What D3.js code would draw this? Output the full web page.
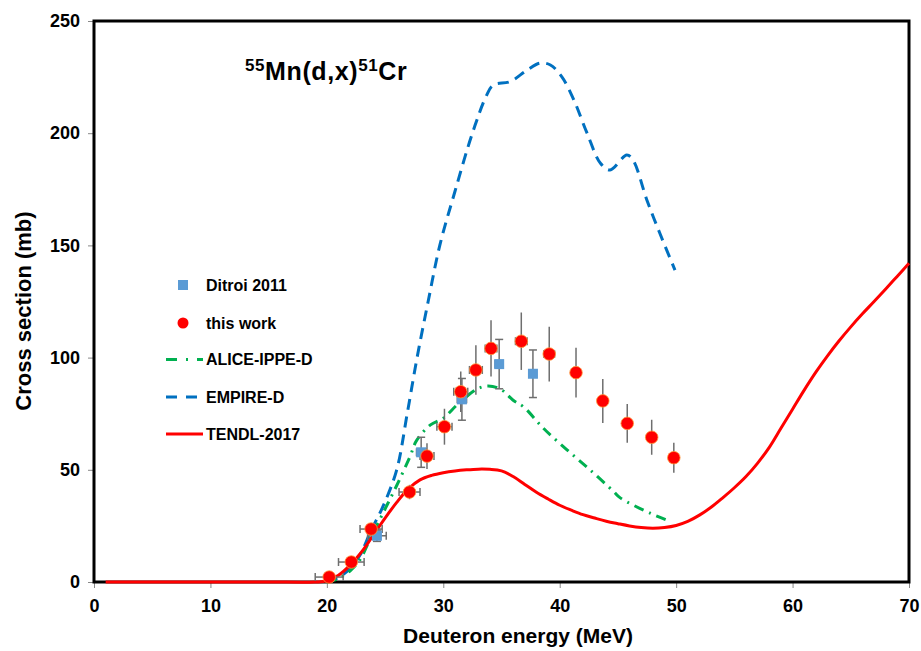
<!DOCTYPE html>
<html>
<head>
<meta charset="utf-8">
<script src="https://cdn.jsdelivr.net/npm/d3@7"></script>
<style>
body { margin: 0; background: #fff; }
text { font-family: "Liberation Sans", Arial, sans-serif; font-weight: bold; }
</style>
</head>
<body>
<svg width="921" height="651"></svg>
<script>
// measured cross sections, this work: energy, xerr, sigma, yerr
var workE    = [20.2, 22.1, 23.8, 27.1, 28.6, 30.1, 31.5, 32.8, 34.1, 36.7, 39.1, 41.4, 43.7, 45.8, 47.9, 49.8];
var workEerr = [1.2, 1.1, 0.95, 0.9, 0.6, 0.65, 0.6, 0.55, 0.5, 0.5, 0.45, 0, 0, 0, 0, 0];
var workS    = [2.2, 8.9, 23.6, 40.1, 56.1, 69.2, 84.8, 94.5, 104.1, 107.3, 101.6, 93.3, 80.7, 70.7, 64.5, 55.4];
var workSerr = [1, 1.5, 2.5, 3.2, 5.7, 8, 9, 11, 12.5, 12.8, 12.2, 11.1, 9.8, 8.6, 7.8, 6.7];

// Ditroi 2011
var ditE    = [24.3, 28.1, 31.6, 34.8, 37.7];
var ditEerr = [0.8, 0.4, 0.4, 0.35, 0.3];
var ditS    = [20.6, 57.8, 81.4, 97.1, 92.8];
var ditSerr = [2.5, 6.7, 9.3, 11, 10.6];

// model curves
var aliceE = [20, 21, 22, 22.85, 23.7, 24.85, 26, 27.15, 27.7, 28.9, 30, 31.2, 32.9, 33.8, 34.9, 36, 36.9, 38.6, 40.6, 42.6, 44.6, 45.2, 47.8, 49.2];
var aliceS = [0, 1.5, 5, 10, 19, 31, 43, 56, 63, 70, 73, 79, 86, 87.3, 86, 81, 78, 68.5, 59, 50, 40.5, 37.5, 30.6, 27.6];

var empireE = [20, 21, 22, 22.85, 23.8, 24.85, 26, 26.9, 27.75, 28.7, 29.7, 31, 32.5, 33.73, 34.3, 35.74, 37.17, 38.3, 39.2, 40.2, 41.2, 42.35, 43.5, 44.33, 45.76, 46.3, 47.5, 48.6, 49.9];
var empireS = [0, 2, 6, 12, 23, 34, 50, 75, 100, 125, 150, 174, 200, 217, 221.5, 223, 228, 231.2, 230.4, 225, 215, 200, 186.6, 183.6, 190.3, 188, 170, 155.4, 139];

var tendlE = [1, 5, 10, 15, 19, 20, 21, 22, 23, 24, 25, 26, 27, 28, 29, 30, 31, 32, 33, 34, 35, 36, 37, 38, 39, 40, 41, 42, 43, 44, 45, 46, 47, 48, 49, 50, 51, 52, 53, 54, 55, 56, 57, 58, 59, 60, 61, 62, 63, 64, 65, 66, 67, 68, 69, 70];
var tendlS = [0, 0, 0, 0, 0, 0.5, 3, 7.5, 13.5, 21, 28.5, 35.5, 41.5, 45.5, 47.5, 48.7, 49.5, 50, 50.3, 50.2, 49.5, 47, 43.5, 40, 37, 34.2, 32, 30, 28.5, 27.1, 26, 25, 24.3, 24, 24.3, 25.2, 27, 29.8, 33.3, 37.5, 42, 47, 53, 60, 68.5, 77, 85.5, 93.5, 100.8, 107.5, 113.7, 119.5, 125, 130.6, 136.3, 142];

var xTicks = [0, 10, 20, 30, 40, 50, 60, 70];
var yTicks = [0, 50, 100, 150, 200, 250];

var svg = d3.select("svg");
var pLeft = 94, pRight = 909, pTop = 21, pBottom = 582;

var x = d3.scaleLinear().domain([0, 70]).range([pLeft, pRight]);
var y = d3.scaleLinear().domain([0, 250]).range([pBottom, pTop]);

function pairs(a, b) { return a.map(function(v, i) { return [v, b[i]]; }); }

// axes with grey outward ticks
var xAxis = svg.append("g").attr("transform", "translate(0," + pBottom + ")")
	.call(d3.axisBottom(x).tickValues(xTicks).tickSize(6).tickPadding(8));
var yAxis = svg.append("g").attr("transform", "translate(" + pLeft + ",0)")
	.call(d3.axisLeft(y).tickValues(yTicks).tickSize(6).tickPadding(8));
[xAxis, yAxis].forEach(function(a) {
	a.select(".domain").remove();
	a.selectAll("line").attr("stroke", "#888").attr("stroke-width", 1);
	a.selectAll("text").attr("font-size", "18px").attr("fill", "#000")
		.attr("font-family", "Liberation Sans, Arial, sans-serif").attr("font-weight", "bold");
});
xAxis.selectAll("text").attr("dy", "0.9em");

// frame
svg.append("rect").attr("x", pLeft).attr("y", pTop).attr("width", pRight - pLeft).attr("height", pBottom - pTop)
	.attr("fill", "none").attr("stroke", "#000").attr("stroke-width", 3);

var line = d3.line().x(function(d) { return x(d[0]); }).y(function(d) { return y(d[1]); })
	.curve(d3.curveCatmullRom.alpha(0.5));

svg.append("path").datum(pairs(empireE, empireS)).attr("d", line)
	.attr("fill", "none").attr("stroke", "#0070C0").attr("stroke-width", 3).attr("stroke-dasharray", "11,7");
svg.append("path").datum(pairs(aliceE, aliceS)).attr("d", line)
	.attr("fill", "none").attr("stroke", "#00B050").attr("stroke-width", 3).attr("stroke-dasharray", "10,6,2,6");
svg.append("path").datum(pairs(tendlE, tendlS)).attr("d", line)
	.attr("fill", "none").attr("stroke", "#FF0000").attr("stroke-width", 3);

// error bars
function errorBars(E, Ee, S, Se, vcap) {
	var g = svg.append("g").attr("stroke", "#6e6e6e").attr("stroke-width", 1.5);
	E.forEach(function(e, i) {
		g.append("line").attr("x1", x(e)).attr("x2", x(e)).attr("y1", y(S[i] - Se[i])).attr("y2", y(S[i] + Se[i]));
		if (vcap) {
			[S[i] - Se[i], S[i] + Se[i]].forEach(function(v) {
				g.append("line").attr("x1", x(e) - 4).attr("x2", x(e) + 4).attr("y1", y(v)).attr("y2", y(v));
			});
		}
		if (Ee[i] > 0) {
			g.append("line").attr("x1", x(e - Ee[i])).attr("x2", x(e + Ee[i])).attr("y1", y(S[i])).attr("y2", y(S[i]));
			[e - Ee[i], e + Ee[i]].forEach(function(v) {
				g.append("line").attr("x1", x(v)).attr("x2", x(v)).attr("y1", y(S[i]) - 4).attr("y2", y(S[i]) + 4);
			});
		}
	});
}
errorBars(ditE, ditEerr, ditS, ditSerr, true);
errorBars(workE, workEerr, workS, workSerr, false);

svg.append("g").selectAll("rect").data(pairs(ditE, ditS)).enter().append("rect")
	.attr("x", function(d) { return x(d[0]) - 5; }).attr("y", function(d) { return y(d[1]) - 5; })
	.attr("width", 10).attr("height", 10).attr("fill", "#5B9BD5");
svg.append("g").selectAll("circle").data(pairs(workE, workS)).enter().append("circle")
	.attr("cx", function(d) { return x(d[0]); }).attr("cy", function(d) { return y(d[1]); })
	.attr("r", 6.3).attr("fill", "#FF0000").attr("stroke", "#FF9A3C").attr("stroke-width", 0.8);

// legend
var lg = svg.append("g");
lg.append("rect").attr("x", 178).attr("y", 280).attr("width", 10).attr("height", 10).attr("fill", "#5B9BD5");
lg.append("circle").attr("cx", 183).attr("cy", 323).attr("r", 5.5).attr("fill", "#FF0000");
lg.append("line").attr("x1", 166).attr("x2", 203).attr("y1", 359.5).attr("y2", 359.5)
	.attr("stroke", "#00B050").attr("stroke-width", 3).attr("stroke-dasharray", "11,9,2,9");
lg.append("line").attr("x1", 166).attr("x2", 197).attr("y1", 397).attr("y2", 397)
	.attr("stroke", "#0070C0").attr("stroke-width", 3).attr("stroke-dasharray", "11,9");
lg.append("line").attr("x1", 166).attr("x2", 203).attr("y1", 434).attr("y2", 434)
	.attr("stroke", "#FF0000").attr("stroke-width", 3);
var legendNames = ["Ditroi 2011", "this work", "ALICE-IPPE-D", "EMPIRE-D", "TENDL-2017"];
var legendY = [285, 323, 359.5, 397, 434];
legendNames.forEach(function(n, i) {
	lg.append("text").attr("x", 206).attr("y", legendY[i]).attr("dy", "0.36em")
		.attr("font-size", "16px").text(n);
});

// title
var t = svg.append("text").attr("x", 245).attr("y", 80).attr("font-size", "25px").attr("letter-spacing", "0.6");
t.append("tspan").attr("font-size", "17px").attr("dy", "-9").text("55");
t.append("tspan").attr("dy", "9").text("Mn(d,x)");
t.append("tspan").attr("font-size", "17px").attr("dy", "-9").text("51");
t.append("tspan").attr("dy", "9").text("Cr");

// axis titles
svg.append("text").attr("x", 518).attr("y", 643).attr("text-anchor", "middle")
	.attr("font-size", "21px").text("Deuteron energy (MeV)");
svg.append("text").attr("transform", "translate(31,311) rotate(-90)").attr("text-anchor", "middle")
	.attr("font-size", "22px").text("Cross section (mb)");
</script>
</body>
</html>
